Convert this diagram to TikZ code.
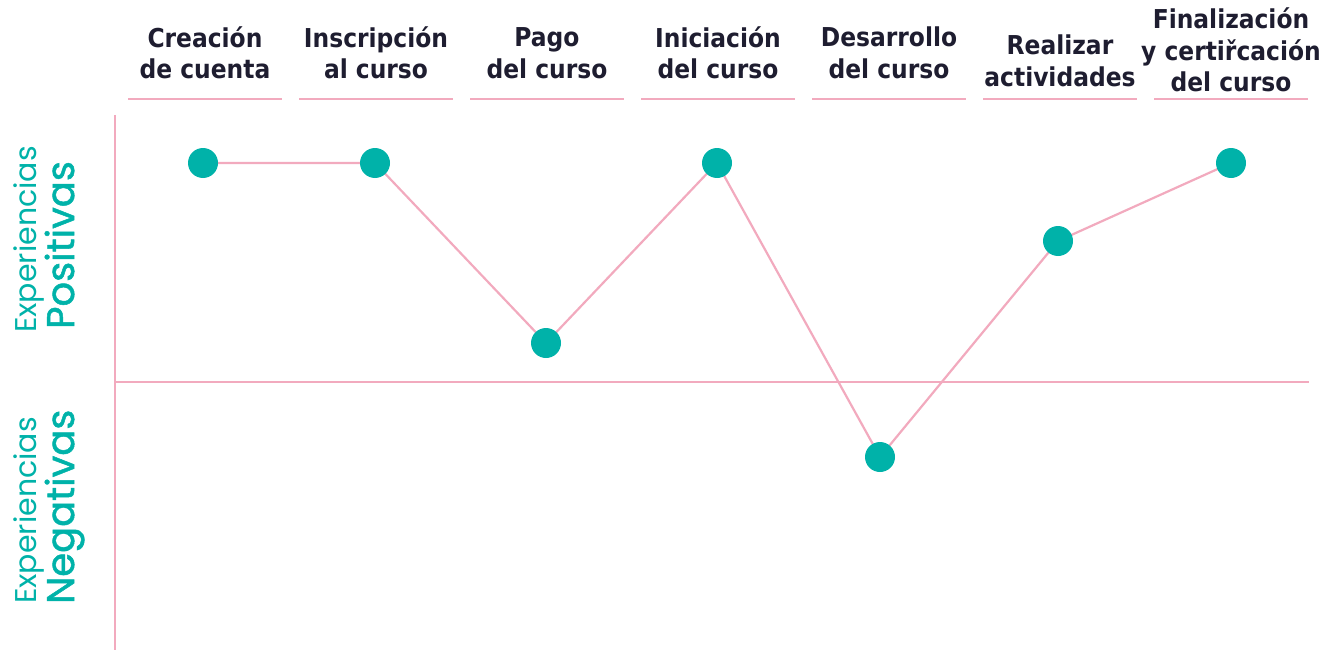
\documentclass[tikz,border=0pt]{standalone}
\usepackage{fontspec}
\newfontfamily\hdrfont{DejaVu Sans Condensed}[BoldFont={DejaVu Sans Condensed Bold}]
\newfontfamily\popfont{Poppins}
\newfontfamily\popmed[FakeBold=1.3]{Poppins}
\definecolor{teal1}{RGB}{0,178,169}
\definecolor{pinkl}{RGB}{242,170,190}
\definecolor{navy}{RGB}{30,29,48}
\begin{document}
\begin{tikzpicture}[x=1pt,y=-1pt,
  hdr/.style={font=\hdrfont\bfseries\fontsize{26}{31.5}\selectfont, text=navy, align=center, inner sep=0pt},
  uline/.style={draw=pinkl, line width=1.6pt},
  axis/.style={draw=pinkl, line width=1.5pt},
  conn/.style={draw=pinkl, line width=2.2pt},
  dot/.style={circle, fill=teal1, minimum size=30pt, inner sep=0pt},
  sidethin/.style={font=\popfont\fontsize{30}{30}\selectfont, text=teal1, rotate=90, anchor=base west, inner sep=0pt},
  sidebold/.style={font=\popmed\fontsize{38.5}{38.5}\selectfont, text=teal1, rotate=90, anchor=base west, inner sep=0pt}
]
\useasboundingbox (0,0) rectangle (1329,650);
% headers
\node[hdr] (h1) at (205,53) {Creación\\de cuenta};
\node[hdr] (h2) at (376,53) {Inscripción\\al curso};
\node[hdr] (h3) at (547,53) {Pago\\del curso};
\node[hdr] (h4) at (718,53) {Iniciación\\del curso};
\node[hdr] (h5) at (889,53) {Desarrollo\\del curso};
\node[hdr] (h6) at (1060,61) {Realizar\\actividades};
\node[hdr] (h7) at (1231,50) {Finalización\\y certiřcación\\del curso};
% underlines
\foreach \i in {0,...,6}{
  \path[uline] ({128+171*\i},99) -- ({282+171*\i},99);
}
% axes
\coordinate (vtop) at (115,115);
\coordinate (vbot) at (115,650);
\coordinate (hl) at (115,382);
\coordinate (hr) at (1309,382);
\path[axis] (vtop) -- (vbot);
\path[axis] (hl) -- (hr);
% side labels
\node[sidethin] (ep) at (36,333) {Experiencias};
\node[sidebold] (pos) at (74,329) {Positivas};
\node[sidethin] (en) at (36,604) {Experiencias};
\node[sidebold] (neg) at (74,604) {Negativas};
% points
\coordinate (p1) at (203,163);
\coordinate (p2) at (375,163);
\coordinate (p3) at (546,343);
\coordinate (p4) at (717,163);
\coordinate (p5) at (880,457);
\coordinate (p6) at (1058,241);
\coordinate (p7) at (1231,163);
\path[conn] (p1) -- (p2) -- (p3) -- (p4) -- (p5) -- (p6) -- (p7);
\foreach \p in {p1,p2,p3,p4,p5,p6,p7}{
  \node[dot] (d\p) at (\p) {};
}
\end{tikzpicture}
\end{document}
